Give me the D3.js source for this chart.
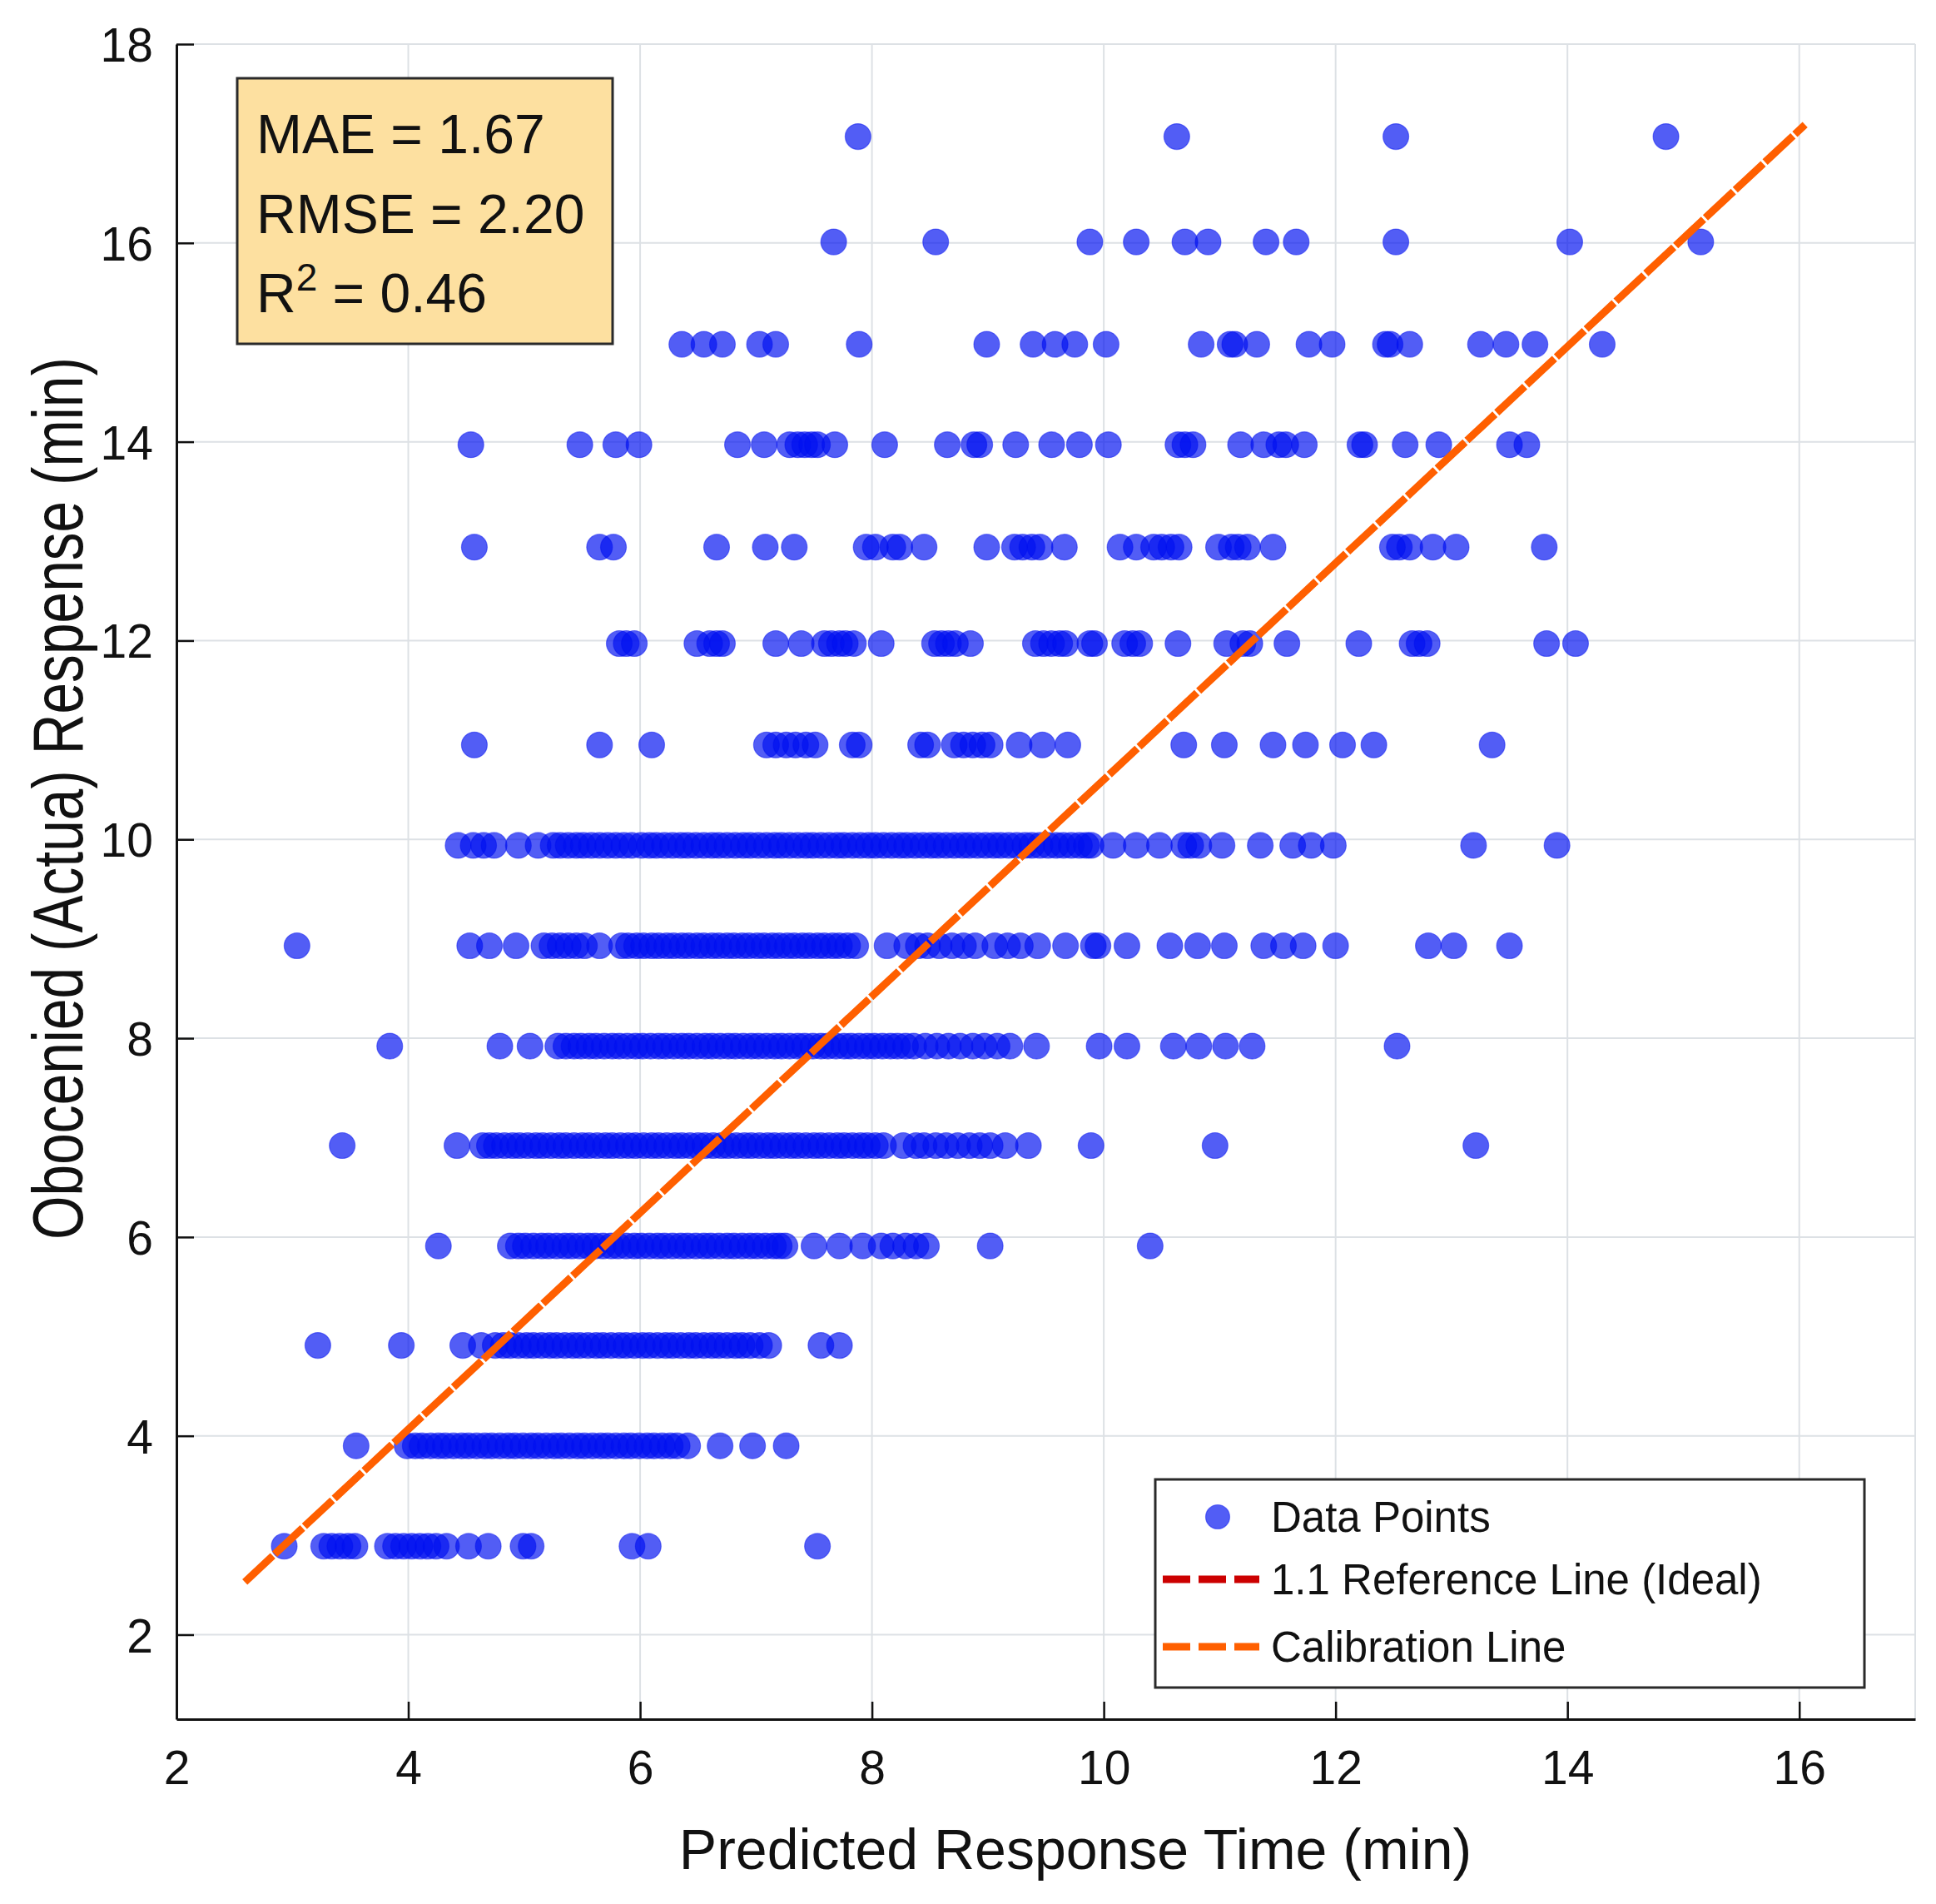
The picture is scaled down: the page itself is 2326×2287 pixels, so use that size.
<!DOCTYPE html>
<html>
<head>
<meta charset="utf-8">
<script src="https://cdn.jsdelivr.net/npm/d3@7/dist/d3.min.js"></script>
<style>
  body { margin: 0; background: #fff; }
  svg { display: block; font-family: "Liberation Sans", Arial, sans-serif; }
</style>
</head>
<body>
<div id="chart"></div>
<script>
// observed (actual) response levels, one row of points per level
const observedLevels = [2.89, 3.90, 4.91, 5.91, 6.92, 7.92, 8.93, 9.94, 10.95, 11.97, 12.94, 13.97, 14.98, 16.01, 17.07];

// predicted response times, row by row
const predictedByLevel = [
  [2.93, 3.27, 3.34, 3.41, 3.48, 3.54, 3.82, 3.89, 3.96, 4.03, 4.10, 4.17, 4.24, 4.33, 4.52, 4.69, 4.99, 5.06, 5.93, 6.07, 7.53],
  [3.55, 3.99, 4.06, 4.12, 4.19, 4.26, 4.32, 4.39, 4.46, 4.52, 4.59, 4.66, 4.72, 4.79, 4.86, 4.92, 4.99, 5.06, 5.12, 5.19, 5.26,
   5.32, 5.39, 5.46, 5.52, 5.59, 5.66, 5.72, 5.79, 5.86, 5.92, 5.99, 6.06, 6.12, 6.19, 6.26, 6.32, 6.41, 6.69, 6.97, 7.26],
  [3.22, 3.94, 4.47, 4.63, 4.75, 4.82, 4.88, 4.95, 5.02, 5.08, 5.15, 5.22, 5.28, 5.35, 5.42, 5.48, 5.55, 5.62, 5.68, 5.75, 5.82,
   5.88, 5.95, 6.02, 6.08, 6.15, 6.22, 6.28, 6.35, 6.42, 6.48, 6.55, 6.62, 6.68, 6.75, 6.82, 6.88, 6.95, 7.03, 7.11, 7.56, 7.72],
  [4.26, 4.88, 4.95, 5.01, 5.08, 5.15, 5.21, 5.28, 5.35, 5.41, 5.48, 5.55, 5.61, 5.68, 5.75, 5.81, 5.88, 5.95, 6.01, 6.08, 6.15,
   6.21, 6.28, 6.35, 6.41, 6.48, 6.55, 6.61, 6.68, 6.75, 6.81, 6.88, 6.95, 7.01, 7.08, 7.15, 7.20, 7.25, 7.50, 7.72, 7.92, 8.08,
   8.18, 8.29, 8.38, 8.47, 9.02, 10.40],
  [3.43, 4.42, 4.64, 4.70, 4.76, 4.83, 4.90, 4.96, 5.03, 5.10, 5.16, 5.23, 5.30, 5.36, 5.43, 5.50, 5.56, 5.63, 5.70, 5.76, 5.83,
   5.90, 5.96, 6.03, 6.10, 6.16, 6.23, 6.30, 6.36, 6.43, 6.50, 6.56, 6.63, 6.70, 6.76, 6.83, 6.90, 6.96, 7.03, 7.10, 7.16, 7.23,
   7.30, 7.36, 7.43, 7.50, 7.56, 7.63, 7.70, 7.76, 7.83, 7.90, 7.96, 8.03, 8.10, 8.27, 8.38, 8.45, 8.55, 8.64, 8.74, 8.84, 8.93,
   9.02, 9.15, 9.35, 9.89, 10.96, 13.21],
  [3.84, 4.79, 5.05, 5.29, 5.36, 5.43, 5.49, 5.56, 5.62, 5.69, 5.76, 5.82, 5.89, 5.96, 6.02, 6.09, 6.16, 6.22, 6.29, 6.36, 6.42,
   6.49, 6.56, 6.62, 6.69, 6.76, 6.82, 6.89, 6.96, 7.02, 7.09, 7.16, 7.22, 7.29, 7.36, 7.42, 7.49, 7.56, 7.62, 7.69, 7.76, 7.82,
   7.89, 7.96, 8.02, 8.09, 8.16, 8.22, 8.29, 8.36, 8.46, 8.56, 8.66, 8.76, 8.87, 8.97, 9.08, 9.19, 9.42, 9.96, 10.20, 10.60,
   10.82, 11.05, 11.28, 12.53],
  [3.04, 4.53, 4.70, 4.93, 5.17, 5.24, 5.31, 5.38, 5.45, 5.52, 5.65, 5.84, 5.90, 5.97, 6.03, 6.10, 6.16, 6.23, 6.29, 6.36, 6.42,
   6.49, 6.55, 6.62, 6.68, 6.75, 6.81, 6.88, 6.94, 7.01, 7.07, 7.14, 7.20, 7.27, 7.33, 7.40, 7.46, 7.53, 7.59, 7.66, 7.72, 7.79,
   7.86, 8.13, 8.30, 8.40, 8.48, 8.58, 8.69, 8.79, 8.89, 9.06, 9.17, 9.28, 9.43, 9.67, 9.91, 9.95, 10.20, 10.57, 10.81, 11.04,
   11.38, 11.55, 11.72, 12.00, 12.80, 13.02, 13.50],
  [4.43, 4.56, 4.65, 4.74, 4.95, 5.12, 5.25, 5.31, 5.38, 5.45, 5.51, 5.58, 5.65, 5.72, 5.79, 5.86, 5.93, 6.01, 6.08, 6.14, 6.21,
   6.28, 6.35, 6.41, 6.48, 6.55, 6.62, 6.68, 6.75, 6.82, 6.89, 6.95, 7.02, 7.09, 7.16, 7.22, 7.29, 7.36, 7.43, 7.49, 7.56, 7.63,
   7.70, 7.76, 7.83, 7.90, 7.97, 8.03, 8.10, 8.17, 8.24, 8.30, 8.37, 8.44, 8.51, 8.57, 8.64, 8.71, 8.78, 8.84, 8.91, 8.98, 9.05,
   9.11, 9.18, 9.25, 9.32, 9.38, 9.45, 9.52, 9.59, 9.65, 9.72, 9.79, 9.85, 9.89, 10.08, 10.28, 10.48, 10.69, 10.75, 10.82, 11.02,
   11.35, 11.63, 11.79, 11.98, 13.19, 13.91],
  [4.57, 5.65, 6.10, 7.09, 7.17, 7.26, 7.34, 7.43, 7.51, 7.83, 7.89, 8.42, 8.48, 8.71, 8.79, 8.87, 8.95, 9.02, 9.27, 9.47, 9.69,
   10.69, 11.04, 11.46, 11.74, 12.06, 12.33, 13.35],
  [5.82, 5.88, 5.95, 6.49, 6.60, 6.66, 6.71, 7.17, 7.39, 7.59, 7.65, 7.72, 7.77, 7.84, 8.08, 8.54, 8.60, 8.66, 8.72, 8.85, 9.41,
   9.48, 9.55, 9.62, 9.67, 9.88, 9.92, 10.18, 10.25, 10.31, 10.64, 11.06, 11.20, 11.26, 11.58, 12.20, 12.66, 12.72, 12.79, 13.82, 14.07],
  [4.57, 5.65, 5.77, 6.66, 7.08, 7.33, 7.95, 8.03, 8.18, 8.24, 8.45, 8.99, 9.23, 9.30, 9.38, 9.45, 9.66, 10.14, 10.28, 10.43,
   10.50, 10.58, 10.65, 10.99, 11.10, 11.16, 11.24, 11.46, 12.49, 12.55, 12.64, 12.84, 13.04, 13.80],
  [4.54, 5.48, 5.79, 5.99, 6.84, 7.07, 7.29, 7.36, 7.42, 7.48, 7.53, 7.68, 8.11, 8.65, 8.88, 8.93, 9.24, 9.55, 9.79, 10.04,
   10.64, 10.70, 10.77, 11.18, 11.38, 11.51, 11.57, 11.73, 12.21, 12.25, 12.60, 12.89, 13.50, 13.65],
  [6.36, 6.55, 6.71, 7.03, 7.17, 7.89, 8.99, 9.39, 9.58, 9.75, 10.02, 10.84, 11.09, 11.13, 11.32, 11.77, 11.97, 12.43, 12.47,
   12.64, 13.25, 13.47, 13.72, 14.30],
  [7.67, 8.55, 9.88, 10.28, 10.70, 10.90, 11.40, 11.66, 12.52, 14.02, 15.15],
  [7.88, 10.63, 12.52, 14.85]
];

// calibration line end points
const calibrationX = [2.59, 16.05];
const calibrationY = [2.53, 17.19];

const xTicks = [2, 4, 6, 8, 10, 12, 14, 16];
const yTicks = [2, 4, 6, 8, 10, 12, 14, 16, 18];

const statsLines = [
  { label: "MAE", value: "1.67" },
  { label: "RMSE", value: "2.20" },
  { label: "R", sup: "2", value: "0.46" }
];
const legendLabels = ["Data Points", "1.1 Reference Line (Ideal)", "Calibration Line"];

const xTitle = "Predicted Response Time (min)";
const yTitle = "Obocenied (Actua) Respense (min)";

// canvas
const width = 2326;
const height = 2287;
const plot = { left: 212, right: 2301, top: 53, bottom: 2065 };

const pointColor = "#0010f0";
const calibColor = "#ff5f00";
const refColor = "#cc0000";
const gridColor = "#dde1e5";

const svg = d3.select("#chart")
  .append("svg")
  .attr("width", width)
  .attr("height", height);

const x = d3.scaleLinear().domain([2, 17]).range([plot.left, plot.right]);
const y = d3.scaleLinear().domain([1.15, 18]).range([plot.bottom, plot.top]);

// grid
const grid = svg.append("g").attr("stroke", gridColor).attr("stroke-width", 2);
grid.selectAll(".vg")
  .data(xTicks.filter(d => d > 2))
  .enter().append("line")
  .attr("x1", d => x(d)).attr("x2", d => x(d))
  .attr("y1", plot.top).attr("y2", plot.bottom);
grid.selectAll(".hg")
  .data(yTicks)
  .enter().append("line")
  .attr("x1", plot.left).attr("x2", plot.right)
  .attr("y1", d => y(d)).attr("y2", d => y(d));
grid.append("line")
  .attr("x1", plot.right).attr("x2", plot.right)
  .attr("y1", plot.top).attr("y2", plot.bottom);

// points
const points = [];
observedLevels.forEach((lvl, i) => {
  predictedByLevel[i].forEach(p => points.push({ p: p, o: lvl }));
});

svg.append("g")
  .selectAll("circle")
  .data(points)
  .enter().append("circle")
  .attr("cx", d => x(d.p))
  .attr("cy", d => y(d.o))
  .attr("r", 15.5)
  .attr("fill", pointColor)
  .attr("fill-opacity", 0.68)
  .attr("stroke", pointColor)
  .attr("stroke-opacity", 0.45)
  .attr("stroke-width", 1.2);

// calibration line
const calib = calibrationX.map((d, i) => [d, calibrationY[i]]);
svg.append("path")
  .datum(calib)
  .attr("d", d3.line().x(d => x(d[0])).y(d => y(d[1])))
  .attr("fill", "none")
  .attr("stroke", calibColor)
  .attr("stroke-width", 9)
  .attr("stroke-dasharray", "46 3");

// axes
const xAxis = d3.axisBottom(x)
  .tickValues(xTicks)
  .tickSizeInner(-21)
  .tickSizeOuter(0)
  .tickPadding(38);
const yAxis = d3.axisLeft(y)
  .tickValues(yTicks)
  .tickSizeInner(-21)
  .tickSizeOuter(0)
  .tickPadding(28);

const gx = svg.append("g")
  .attr("transform", `translate(0,${plot.bottom})`)
  .call(xAxis);
const gy = svg.append("g")
  .attr("transform", `translate(${plot.left},0)`)
  .call(yAxis);

[gx, gy].forEach(g => {
  g.select(".domain").attr("stroke", "#111").attr("stroke-width", 3);
  g.selectAll(".tick line").attr("stroke", "#111").attr("stroke-width", 2.5);
  g.selectAll(".tick text")
    .attr("fill", "#111")
    .style("font-size", "57px")
    .style("font-family", "'Liberation Sans', Arial, sans-serif");
});
gy.selectAll(".tick text").attr("dy", "0.36em");

// axis titles
svg.append("text")
  .attr("x", 1292)
  .attr("y", 2245)
  .attr("text-anchor", "middle")
  .style("font-size", "68px")
  .attr("fill", "#111")
  .text(xTitle);

svg.append("text")
  .attr("transform", "translate(99,959) rotate(-90)")
  .attr("text-anchor", "middle")
  .attr("textLength", 1060)
  .attr("lengthAdjust", "spacingAndGlyphs")
  .style("font-size", "86px")
  .attr("fill", "#111")
  .text(yTitle);

// stats box
const stats = svg.append("g");
stats.append("rect")
  .attr("x", 285).attr("y", 94)
  .attr("width", 451).attr("height", 319)
  .attr("fill", "#fde0a0")
  .attr("stroke", "#2a2a2a")
  .attr("stroke-width", 3);

const statsText = stats.selectAll("text")
  .data(statsLines)
  .enter().append("text")
  .attr("x", 308)
  .attr("y", (d, i) => 184 + i * 95.5)
  .style("font-size", "66px")
  .attr("fill", "#111");
statsText.append("tspan").text(d => d.label);
statsText.filter(d => d.sup)
  .append("tspan")
  .attr("dy", -26)
  .style("font-size", "46px")
  .text(d => d.sup);
statsText.append("tspan")
  .attr("dy", d => d.sup ? 26 : 0)
  .text(d => " = " + d.value);

// legend
const legend = svg.append("g");
legend.append("rect")
  .attr("x", 1388).attr("y", 1777)
  .attr("width", 852).attr("height", 250)
  .attr("fill", "#fff")
  .attr("stroke", "#2a2a2a")
  .attr("stroke-width", 3);

const legendRows = [1822, 1897, 1978];
legend.append("circle")
  .attr("cx", 1463).attr("cy", legendRows[0])
  .attr("r", 14.5)
  .attr("fill", pointColor)
  .attr("fill-opacity", 0.68)
  .attr("stroke", pointColor)
  .attr("stroke-opacity", 0.45)
  .attr("stroke-width", 1.2);

[refColor, calibColor].forEach((c, i) => {
  legend.append("line")
    .attr("x1", 1397).attr("x2", 1513)
    .attr("y1", legendRows[i + 1]).attr("y2", legendRows[i + 1])
    .attr("stroke", c)
    .attr("stroke-width", 9)
    .attr("stroke-dasharray", "33 10");
});

legend.selectAll(".lt")
  .data(legendLabels)
  .enter().append("text")
  .attr("x", 1527)
  .attr("y", (d, i) => legendRows[i])
  .attr("dy", "0.36em")
  .style("font-size", "51px")
  .attr("fill", "#111")
  .text(d => d);
</script>
</body>
</html>
